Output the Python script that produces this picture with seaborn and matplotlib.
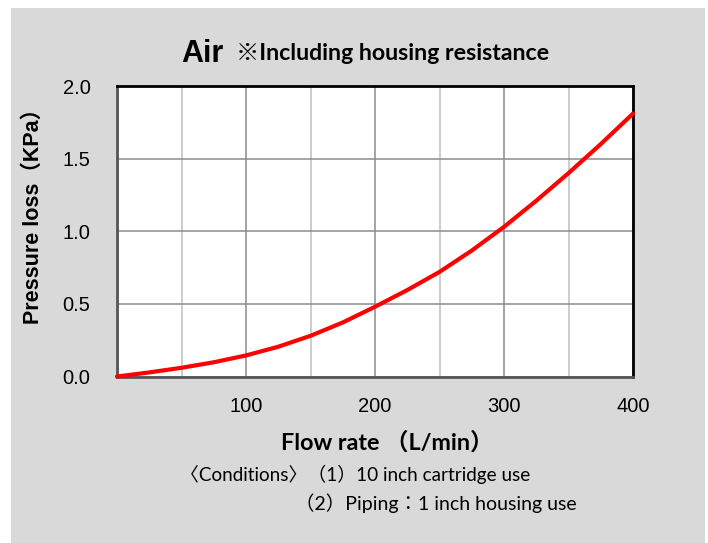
import matplotlib
matplotlib.use("Agg")
import matplotlib.pyplot as plt
import matplotlib.patches as mpatches
from matplotlib.ticker import FixedLocator
import seaborn as sns
import pandas as pd

# ---- data ----
flow_rate = [0, 25, 50, 75, 100, 125, 150, 175, 200, 225, 250, 275, 300, 325, 350, 375, 400]
pressure_loss = [0.0, 0.028, 0.06, 0.098, 0.145, 0.205, 0.28, 0.372, 0.48, 0.595, 0.72,
                 0.867, 1.03, 1.21, 1.40, 1.60, 1.81]
x_ticks = [100, 200, 300, 400]
x_minor_ticks = [50, 150, 250, 350]
x_tick_labels = ["100", "200", "300", "400"]
y_ticks = [0.0, 0.5, 1.0, 1.5, 2.0]
y_tick_labels = ["0.0", "0.5", "1.0", "1.5", "2.0"]

title_main = "Air"
title_note = "※Including housing resistance"
x_label = "Flow rate （L/min）"
y_label = "Pressure loss（KPa）"
cond1 = "〈Conditions〉（1）10 inch cartridge use"
cond2 = "（2）Piping：1 inch housing use"

df = pd.DataFrame({"flow": flow_rate, "loss": pressure_loss})

sns.set_theme(style="white")
plt.rcParams["font.family"] = ["Liberation Sans", "Noto Sans CJK JP", "DejaVu Sans"]
plt.rcParams["text.color"] = "black"

W, H = 708, 543
fig = plt.figure(figsize=(W / 100, H / 100), dpi=100, facecolor="white")

# grey panel
fig.patches.append(mpatches.Rectangle((11 / W, 0), (705 - 11) / W, (543 - 8) / H,
                                      transform=fig.transFigure, facecolor="#d9d9d9",
                                      edgecolor="none", zorder=-10))

ax = fig.add_axes([117 / W, (H - 376.5) / H, (633 - 117) / W, (376.5 - 86) / H])
ax.set_zorder(1)
ax.set_facecolor("white")

sns.lineplot(data=df, x="flow", y="loss", ax=ax, color="#ff0000", linewidth=3.0,
             zorder=5, clip_on=False, solid_joinstyle="round", solid_capstyle="round")

ax.set_xlim(0, 400)
ax.set_ylim(0, 2.0)
ax.xaxis.set_major_locator(FixedLocator(x_ticks))
ax.set_xticklabels(x_tick_labels)
ax.xaxis.set_minor_locator(FixedLocator(x_minor_ticks))
ax.yaxis.set_major_locator(FixedLocator(y_ticks))
ax.set_yticklabels(y_tick_labels)

ax.grid(True, which="major", axis="both", color="#8c8c8c", linewidth=1.1)
ax.grid(True, which="minor", axis="x", color="#bfbfbf", linewidth=1.1)
ax.set_axisbelow(True)

ax.tick_params(axis="both", which="both", length=0, labelsize=14.5, colors="black")
ax.tick_params(axis="x", pad=15)
ax.tick_params(axis="y", pad=19)
for lab in ax.get_xticklabels() + ax.get_yticklabels():
    lab.set_family(["Liberation Sans", "DejaVu Sans"])
    lab.set_color("black")

for side in ["left", "top", "right", "bottom"]:
    ax.spines[side].set_color("black")
    ax.spines[side].set_linewidth(2.0)
ax.spines["left"].set_color("#555555")
ax.spines["bottom"].set_color("#555555")

ax.set_xlabel("")
ax.set_ylabel("")

# y label
fig.text(33 / W, 1 - 211 / H, y_label, rotation=90, ha="center", va="center",
         fontsize=15.5, fontweight="bold", color="black",
         family=["Liberation Sans", "Noto Sans CJK JP", "DejaVu Sans"])

# title
fig.text(181 / W, 1 - 54 / H, title_main, ha="left", va="center", fontsize=22,
         fontweight="bold", color="black", family=["Liberation Sans", "DejaVu Sans"])
fig.text(236 / W, 1 - 54 / H, title_note, ha="left", va="center", fontsize=16.7,
         fontweight="bold", color="black",
         family=["Lato", "Noto Sans CJK JP", "DejaVu Sans"])

# x label
fig.text(387 / W, 1 - 442 / H, x_label, ha="center", va="center", fontsize=16.8,
         fontweight="bold", color="black",
         family=["Lato", "Noto Sans CJK JP", "DejaVu Sans"])

# conditions
fig.text(180 / W, 1 - 474 / H, cond1, ha="left", va="center", fontsize=13.6,
         color="black", family=["Lato", "Noto Sans CJK JP", "DejaVu Sans"])
fig.text(295 / W, 1 - 503 / H, cond2, ha="left", va="center", fontsize=14.0,
         color="black", family=["Lato", "Noto Sans CJK JP", "DejaVu Sans"])

fig.savefig("out.png", dpi=100, facecolor="white")
